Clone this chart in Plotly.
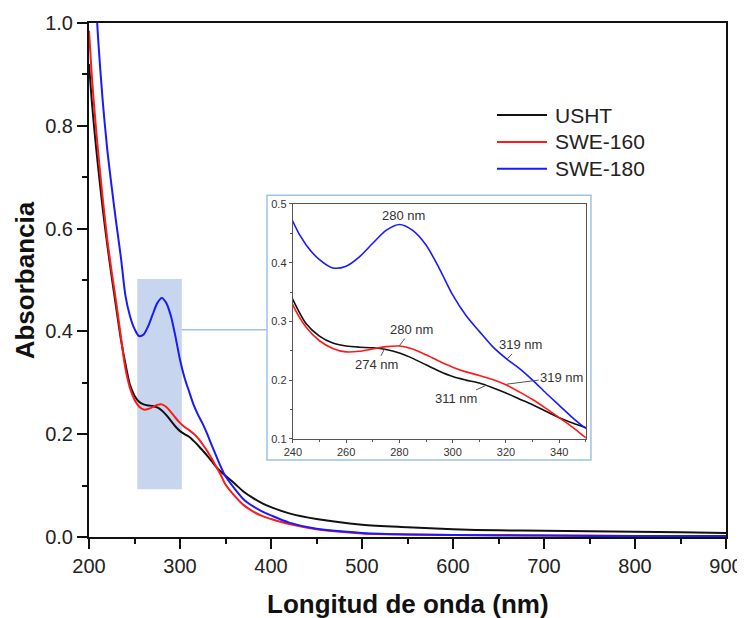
import plotly.graph_objects as go

# ---------------- data ----------------
wavelength = [200, 203, 206, 210, 215, 220, 225, 230, 235, 240, 245, 250, 255, 260, 265,
              270, 275, 280, 285, 290, 295, 300, 305, 310, 315, 320, 325, 330, 335, 340,
              345, 350, 360, 370, 380, 390, 400, 420, 450, 500, 550, 600, 650, 700, 750,
              800, 850, 900]

usht = [0.92, 0.85, 0.79, 0.72, 0.64, 0.57, 0.505, 0.445, 0.385, 0.337, 0.296, 0.275, 0.263,
        0.258, 0.256, 0.255, 0.252, 0.246, 0.237, 0.226, 0.215, 0.206, 0.200, 0.195, 0.187,
        0.178, 0.168, 0.158, 0.147, 0.136, 0.127, 0.119, 0.104, 0.088, 0.076, 0.066, 0.058,
        0.046, 0.035, 0.024, 0.019, 0.015, 0.013, 0.012, 0.011, 0.010, 0.009, 0.008]

swe160 = [0.985, 0.90, 0.83, 0.75, 0.66, 0.58, 0.515, 0.455, 0.39, 0.328, 0.290, 0.267, 0.254,
          0.248, 0.249, 0.253, 0.257, 0.258, 0.253, 0.243, 0.232, 0.222, 0.214, 0.208, 0.201,
          0.192, 0.180, 0.167, 0.152, 0.136, 0.120, 0.102, 0.080, 0.062, 0.050, 0.041, 0.035,
          0.025, 0.015, 0.007, 0.005, 0.004, 0.004, 0.003, 0.003, 0.002, 0.002, 0.002]

swe180 = [1.40, 1.25, 1.10, 0.97, 0.85, 0.755, 0.68, 0.61, 0.545, 0.47, 0.43, 0.405, 0.391,
          0.394, 0.41, 0.433, 0.455, 0.465, 0.455, 0.43, 0.39, 0.345, 0.31, 0.283, 0.257,
          0.237, 0.22, 0.20, 0.178, 0.157, 0.136, 0.118, 0.094, 0.073, 0.060, 0.050, 0.042,
          0.028, 0.016, 0.008, 0.005, 0.004, 0.003, 0.003, 0.002, 0.002, 0.002, 0.002]

series_names = ["USHT", "SWE-160", "SWE-180"]
series_values = [usht, swe160, swe180]
series_colors = ["#111111", "#ff1a1a", "#1a1aff"]

main_x_ticks = [200, 300, 400, 500, 600, 700, 800, 900]
main_y_ticks = [0.0, 0.2, 0.4, 0.6, 0.8, 1.0]
inset_x_ticks = [240, 260, 280, 300, 320, 340]
inset_y_ticks = [0.1, 0.2, 0.3, 0.4, 0.5]

# inset peak labels: (text, curve x, curve y, label x, label y, leader?)
inset_labels = [
    ("280 nm", 281.7, 0.480, 281.7, 0.480, False),
    ("319 nm", 320.5, 0.236, 325.5, 0.260, True),
    ("280 nm", 279.9, 0.258, 284.6, 0.286, True),
    ("274 nm", 274.5, 0.254, 271.4, 0.226, True),
    ("319 nm", 320.2, 0.193, 340.9, 0.205, True),
    ("311 nm", 312.5, 0.191, 301.4, 0.168, True),
]

FONT = "Liberation Sans, Arial, sans-serif"

fig = go.Figure()

for name, vals, col in zip(series_names, series_values, series_colors):
    fig.add_trace(go.Scatter(x=wavelength, y=vals, mode="lines", name=name, showlegend=False,
                             line=dict(color=col, width=2, shape="spline", smoothing=0.8),
                             xaxis="x", yaxis="y"))
for name, vals, col in zip(series_names, series_values, series_colors):
    fig.add_trace(go.Scatter(x=wavelength, y=vals, mode="lines", name=name, showlegend=False,
                             line=dict(color=col, width=1.6, shape="spline", smoothing=0.8),
                             xaxis="x2", yaxis="y2"))

# highlighted region + connector + inset frame
fig.add_shape(type="rect", xref="x", yref="y", x0=253, x1=302, y0=0.093, y1=0.502,
              fillcolor="#c7d5ee", line=dict(width=0), layer="below")
fig.add_shape(type="line", xref="x", yref="y", x0=302, x1=395.6, y0=0.403, y1=0.403,
              line=dict(color="#9dc3e6", width=1.5), layer="below")
fig.add_shape(type="rect", xref="x", yref="y", x0=395.6, x1=751.6, y0=0.1498, y1=0.665,
              fillcolor="white", line=dict(color="#9dc3e6", width=1.5), layer="below")

for text, hx, hy, tx, ty, leader in inset_labels:
    if leader:
        fig.add_annotation(text=text, x=hx, y=hy, ax=tx, ay=ty, xref="x2", yref="y2",
                           axref="x2", ayref="y2", showarrow=True, arrowhead=0,
                           arrowwidth=1, arrowcolor="#555555", standoff=0,
                           font=dict(family=FONT, size=13, color="#333333"))
    else:
        fig.add_annotation(text=text, x=tx, y=ty, xref="x2", yref="y2", showarrow=False,
                           font=dict(family=FONT, size=13, color="#333333"))

# legend (drawn as line samples + labels)
legend_x0, legend_x1, legend_tx = 0.6405, 0.719, 0.7284
legend_rows = [0.821, 0.7685, 0.7165]
for name, col, ly in zip(series_names, series_colors, legend_rows):
    fig.add_shape(type="line", xref="paper", yref="paper", x0=legend_x0, x1=legend_x1,
                  y0=ly, y1=ly, line=dict(color=col, width=2))
    fig.add_annotation(text=name, xref="paper", yref="paper", x=legend_tx, y=ly,
                       xanchor="left", yanchor="middle", showarrow=False,
                       font=dict(family=FONT, size=21, color="#222222"))

# axis titles
fig.add_annotation(text="<b>Longitud de onda (nm)</b>", xref="paper", yref="paper",
                   x=0.5, y=-0.1304, xanchor="center", yanchor="middle", showarrow=False,
                   font=dict(family=FONT, size=26, color="#111111"))
fig.add_annotation(text="<b>Absorbancia</b>", xref="paper", yref="paper", textangle=-90,
                   x=-0.100, y=0.5, xanchor="center", yanchor="middle", showarrow=False,
                   font=dict(family=FONT, size=26, color="#111111"))

main_axis_common = dict(showline=True, linecolor="#111111", linewidth=2, mirror=True,
                        ticks="outside", ticklen=10, tickwidth=2, tickcolor="#111111",
                        showgrid=False, zeroline=False, automargin=False,
                        tickfont=dict(family=FONT, size=20, color="#222222"))

# the page body has an 8 px margin, so the figure is 8 px smaller than the window
fig.update_layout(
    width=737, height=610,
    margin=dict(l=81, r=19, t=15, b=81),
    paper_bgcolor="white", plot_bgcolor="rgba(0,0,0,0)",
    font=dict(family=FONT, color="#222222"),
    showlegend=False,
    xaxis=dict(range=[200, 900], tickvals=main_x_ticks,
               minor=dict(dtick=50, ticks="outside", ticklen=5, tickwidth=1.5, tickcolor="#111111"),
               **main_axis_common),
    yaxis=dict(range=[0, 1.0], tickvals=main_y_ticks, tickformat=".1f",
               minor=dict(dtick=0.1, ticks="outside", ticklen=5, tickwidth=1.5, tickcolor="#111111"),
               **main_axis_common),
    xaxis2=dict(domain=[0.320, 0.780], anchor="y2", range=[240, 350], tickvals=inset_x_ticks,
                showline=True, linecolor="#555555", linewidth=1.2, mirror=True,
                ticks="outside", ticklen=3, tickwidth=1, tickcolor="#555555",
                minor=dict(dtick=10, ticks="outside", ticklen=2, tickcolor="#555555"),
                showgrid=False, zeroline=False, automargin=False,
                tickfont=dict(family=FONT, size=11, color="#333333")),
    yaxis2=dict(domain=[0.191, 0.648], anchor="x2", range=[0.1, 0.5], tickvals=inset_y_ticks,
                tickformat=".1f",
                showline=True, linecolor="#555555", linewidth=1.2, mirror=True,
                ticks="outside", ticklen=3, tickwidth=1, tickcolor="#555555",
                minor=dict(dtick=0.05, ticks="outside", ticklen=2, tickcolor="#555555"),
                showgrid=False, zeroline=False, automargin=False,
                tickfont=dict(family=FONT, size=11, color="#333333")),
)

fig.write_html("out.html")
